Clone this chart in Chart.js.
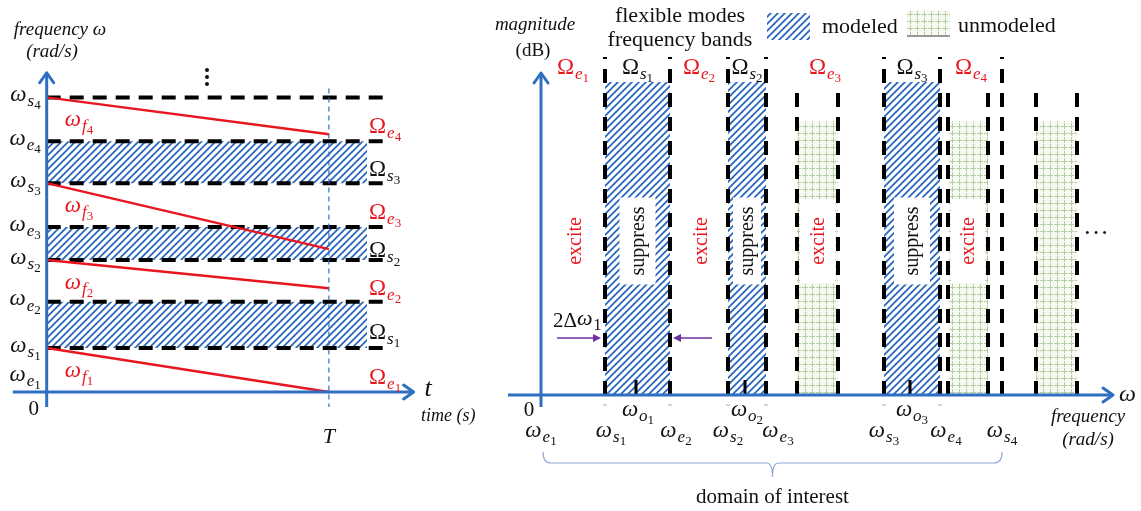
<!DOCTYPE html>
<html>
<head>
<meta charset="utf-8">
<script src="https://cdn.jsdelivr.net/npm/chart.js@4.4.1/dist/chart.umd.min.js"></script>
<style>
  html, body { margin: 0; padding: 0; background: #fff; overflow: hidden; }
  #wrap { position: relative; width: 1141px; height: 511px; }
  canvas { position: absolute; top: 0; }
  #left { left: 0; }
  #right { left: 490px; }
</style>
</head>
<body>
<div id="wrap">
  <canvas id="left" width="490" height="511"></canvas>
  <canvas id="right" width="651" height="511"></canvas>
</div>
<script>
/* ===== Data: left panel (frequency sweep vs time) ===== */
const T = 1;
const levelNames  = ['e1', 's1', 'e2', 's2', 'e3', 's3', 'e4', 's4'];
const levelValues = [0, 1, 2.05, 3, 3.75, 4.75, 5.7, 6.7];
const sweepStart  = [1, 3, 4.75, 6.7];      // ω_s1 .. ω_s4 at t = 0
const sweepEnd    = [0, 2.36, 3.25, 5.86];  // value reached at t = T
const bandLo      = [1, 3, 4.75];           // Ω_s1 .. Ω_s3
const bandHi      = [2.05, 3.75, 5.7];
const bandEndT    = 1.135;
const dashEndT    = 1.2;

/* ===== Data: right panel (magnitude vs frequency) ===== */
const edgeNames   = ['e1', 's1', 'e2', 's2', 'e3', 's3', 'e4', 's4'];
const edgeValues  = [0, 6.4, 12.9, 18.7, 22.5, 34.3, 39.9, 46.1];
const modeledLo   = [6.4, 18.7, 34.3];
const modeledHi   = [12.9, 22.5, 39.9];
const modeledMag  = 31.3;
const unmodLo     = [25.6, 40.7, 49.5];
const unmodHi     = [29.7, 44.7, 53.6];
const unmodMag    = 27.4;
const centerFreq  = [9.5, 20.4, 36.9];
const tallDashTop = 33.8;
const shortDashTop = 30.7;

/* ===== Style helpers ===== */
const SERIF = '"Liberation Serif", "DejaVu Serif", serif';
const AXIS_BLUE = '#2e6fc1';
const RED = '#e8161f';
const PURPLE = '#7030a0';

function makeHatch() {
  const c = document.createElement('canvas'); c.width = 7; c.height = 7;
  const g = c.getContext('2d');
  g.fillStyle = '#fff'; g.fillRect(0, 0, 7, 7);
  g.strokeStyle = '#2b67bd'; g.lineWidth = 1.8;
  g.beginPath();
  g.moveTo(-1, 8); g.lineTo(8, -1);
  g.moveTo(-1, 1); g.lineTo(1, -1);
  g.moveTo(6, 8); g.lineTo(8, 6);
  g.stroke();
  return g.createPattern(c, 'repeat');
}
function makeGrid() {
  const c = document.createElement('canvas'); c.width = 7; c.height = 7;
  const g = c.getContext('2d');
  g.fillStyle = '#f7faf3'; g.fillRect(0, 0, 7, 7);
  g.fillStyle = '#b5cda3';
  g.fillRect(0, 0, 7, 1); g.fillRect(0, 0, 1, 7);
  g.fillStyle = '#f7faf3';
  g.fillRect(3, 0, 1, 1); g.fillRect(0, 3, 1, 1);
  return g.createPattern(c, 'repeat');
}
const HATCH = makeHatch();
const GRID = makeGrid();

function txt(ctx, s, x, y, o = {}) {
  ctx.save();
  ctx.font = (o.italic ? 'italic ' : '') + (o.size || 20) + 'px ' + SERIF;
  ctx.fillStyle = o.color || '#111';
  ctx.textAlign = o.align || 'center';
  ctx.textBaseline = 'middle';
  if (o.rot) { ctx.translate(x, y); ctx.rotate(o.rot); ctx.fillText(s, 0, 0); }
  else ctx.fillText(s, x, y);
  ctx.restore();
}
function textW(ctx, s, size, italic) {
  ctx.save();
  ctx.font = (italic ? 'italic ' : '') + size + 'px ' + SERIF;
  const w = ctx.measureText(s).width;
  ctx.restore();
  return w;
}
// symbol like ω_{s_4}; y is the visual middle of the base glyph
function sym(ctx, x, y, base, sub, idx, o = {}) {
  const s = o.size || 23;
  const fBase = (o.upright ? '' : 'italic ') + s + 'px ' + SERIF;
  const fSub = (/\d/.test(sub) ? '' : 'italic ') + Math.round(s * 0.74) + 'px ' + SERIF;
  const fIdx = Math.round(s * 0.58) + 'px ' + SERIF;
  ctx.save();
  ctx.fillStyle = o.color || '#111';
  ctx.textAlign = 'left'; ctx.textBaseline = 'alphabetic';
  ctx.font = fBase; const w1 = ctx.measureText(base).width;
  ctx.font = fSub; const w2 = sub ? ctx.measureText(sub).width : 0;
  ctx.font = fIdx; const w3 = idx ? ctx.measureText(idx).width : 0;
  const w = w1 + w2 + w3 + 1;
  const x0 = o.align === 'right' ? x - w : o.align === 'left' ? x : x - w / 2;
  const b0 = y + s * (o.upright ? 0.33 : 0.2);
  const b1 = b0 + s * 0.22;
  ctx.font = fBase; ctx.fillText(base, x0, b0);
  if (sub) { ctx.font = fSub; ctx.fillText(sub, x0 + w1 + 1, b1); }
  if (idx) { ctx.font = fIdx; ctx.fillText(idx, x0 + w1 + w2 + 1, b1 + s * 0.15); }
  ctx.restore();
}
function chevron(ctx, x, y, dir, color) {
  ctx.save();
  ctx.strokeStyle = color; ctx.lineWidth = 3; ctx.lineCap = 'round'; ctx.lineJoin = 'round';
  ctx.beginPath();
  if (dir === 'up') { ctx.moveTo(x - 7, y + 10); ctx.lineTo(x, y); ctx.lineTo(x + 7, y + 10); }
  else { ctx.moveTo(x - 10, y - 7); ctx.lineTo(x, y); ctx.lineTo(x - 10, y + 7); }
  ctx.stroke();
  ctx.restore();
}
function seg(ctx, x0, y0, x1, y1) { ctx.beginPath(); ctx.moveTo(x0, y0); ctx.lineTo(x1, y1); ctx.stroke(); }

function lineDs(points, color, width, dash, order, extra = {}) {
  return Object.assign({
    data: points, showLine: true, borderColor: color, borderWidth: width,
    borderDash: dash || [], pointRadius: 0, fill: false, order
  }, extra);
}
function baseOptions(xr, yr, pad) {
  return {
    responsive: false, animation: false, devicePixelRatio: 1,
    layout: { padding: pad },
    plugins: { legend: { display: false }, tooltip: { enabled: false } },
    elements: { line: { tension: 0 }, point: { radius: 0 } },
    scales: {
      x: { type: 'linear', display: false, min: xr[0], max: xr[1] },
      y: { type: 'linear', display: false, min: yr[0], max: yr[1] }
    }
  };
}

/* ===== Left chart ===== */
const leftSets = [];
bandLo.forEach((lo, i) => {
  const hi = bandHi[i];
  leftSets.push(lineDs([{x: 0, y: lo}, {x: 0, y: hi}, {x: bandEndT, y: hi}, {x: bandEndT, y: lo}],
    'rgba(0,0,0,0)', 1, null, 10, { fill: { value: lo }, backgroundColor: HATCH }));
});
levelValues.slice(1).forEach(v => {
  leftSets.push(lineDs([{x: 0, y: v}, {x: dashEndT, y: v}], '#000', 4, [14, 9], 5));
});
sweepStart.forEach((s, i) => {
  leftSets.push(lineDs([{x: 0, y: s}, {x: T, y: sweepEnd[i]}], RED, 2.5, null, 3));
});
leftSets.push(lineDs([{x: T, y: 6.9}, {x: T, y: -0.34}], AXIS_BLUE, 1.2, [5, 4], 2));

const leftDecor = {
  id: 'leftDecor',
  afterDatasetsDraw(chart) {
    const { ctx, scales: { x, y } } = chart;
    const px = v => x.getPixelForValue(v), py = v => y.getPixelForValue(v);
    ctx.save();
    ctx.strokeStyle = AXIS_BLUE; ctx.lineWidth = 3;
    seg(ctx, px(-0.12), py(0), px(1.3), py(0));
    seg(ctx, px(0), py(-0.34), px(0), py(7.26));
    chevron(ctx, px(1.3), py(0), 'right', AXIS_BLUE);
    chevron(ctx, px(0), py(7.26), 'up', AXIS_BLUE);
    ctx.restore();

    // level labels on the frequency axis
    levelNames.forEach((n, i) => {
      const yy = i === 0 ? py(levelValues[i]) - 16 : py(levelValues[i]) - 1;
      sym(ctx, px(0) - 6, yy, 'ω', n[0], n[1], { align: 'right', size: 23 });
    });
    // sweep labels
    sweepStart.forEach((s, i) => {
      sym(ctx, px(0) + 18, py(s) + 24, 'ω', 'f', String(i + 1), { align: 'left', size: 23, color: RED });
    });
    // region labels at the right
    const regionNames = ['e1', 's1', 'e2', 's2', 'e3', 's3', 'e4'];
    regionNames.forEach((n, i) => {
      const lo = i === 0 ? 0 : levelValues[i];
      const hi = levelValues[i + 1];
      const isE = n[0] === 'e';
      sym(ctx, 369, (py(lo) + py(hi)) / 2 + 6, 'Ω', n[0], n[1],
        { align: 'left', size: 23, upright: true, color: isE ? RED : '#111' });
    });

    txt(ctx, 'frequency ω', 60, 30, { italic: true, size: 19 });
    txt(ctx, '(rad/s)', 52, 52, { italic: true, size: 19 });
    ctx.save(); ctx.fillStyle = '#111';
    [70, 77, 84].forEach(yy => { ctx.beginPath(); ctx.arc(207, yy, 2, 0, Math.PI * 2); ctx.fill(); });
    ctx.restore();
    txt(ctx, 't', px(1.3) + 11, py(0) - 3, { italic: true, size: 26, align: 'left' });
    txt(ctx, 'time (s)', 421, 416, { italic: true, size: 18, align: 'left' });
    txt(ctx, '0', px(0) - 13, py(0) + 17, { size: 21 });
    txt(ctx, 'T', px(T), 437, { italic: true, size: 22 });
  }
};

new Chart(document.getElementById('left'), {
  type: 'scatter',
  data: { datasets: leftSets },
  options: baseOptions([-0.13, 1.305], [-0.5, 7.3], { left: 10, right: 75, top: 71, bottom: 97 }),
  plugins: [leftDecor]
});

/* ===== Right chart ===== */
const rightSets = [];
function rectPts(lo, hi, top) { return [{x: lo, y: 0}, {x: lo, y: top}, {x: hi, y: top}, {x: hi, y: 0}]; }
modeledLo.forEach((lo, i) => {
  rightSets.push(lineDs(rectPts(lo, modeledHi[i], modeledMag), 'rgba(0,0,0,0)', 1, null, 10,
    { fill: 'origin', backgroundColor: HATCH }));
});
unmodLo.forEach((lo, i) => {
  rightSets.push(lineDs(rectPts(lo, unmodHi[i], unmodMag), 'rgba(0,0,0,0)', 1, null, 10,
    { fill: 'origin', backgroundColor: GRID }));
});
edgeValues.slice(1).forEach(v => {
  rightSets.push(lineDs([{x: v, y: 0}, {x: v, y: tallDashTop}], '#000', 4, [14, 10], 5));
});
unmodLo.concat(unmodHi).forEach(v => {
  rightSets.push(lineDs([{x: v, y: 0}, {x: v, y: shortDashTop}], '#000', 4, [14, 10], 5));
});
centerFreq.forEach(c => {
  rightSets.push(lineDs([{x: c, y: 0}, {x: c, y: 1.5}], '#000', 3, null, 4));
});

const rightDecor = {
  id: 'rightDecor',
  afterDatasetsDraw(chart) {
    const { ctx, scales: { x, y } } = chart;
    const px = v => x.getPixelForValue(v), py = v => y.getPixelForValue(v);

    // white boxes with rotated labels
    const midY = py(15.4);
    modeledLo.forEach((lo, i) => {
      const cx = (px(lo) + px(modeledHi[i])) / 2;
      const bw = Math.min(36, px(modeledHi[i]) - px(lo) - 10);
      const bh = textW(ctx, 'suppress', 20) + 18;
      ctx.fillStyle = '#fff'; ctx.fillRect(cx - bw / 2, midY - bh / 2, bw, bh);
      txt(ctx, 'suppress', cx + 1, midY, { size: 20, rot: -Math.PI / 2 });
    });
    unmodLo.slice(0, 2).forEach((lo, i) => {
      const cx = (px(lo) + px(unmodHi[i])) / 2;
      const bw = px(unmodHi[i]) - px(lo) - 6;
      const bh = textW(ctx, 'excite', 20) + 36;
      ctx.fillStyle = '#fff'; ctx.fillRect(cx - bw / 2, midY - bh / 2, bw, bh);
      txt(ctx, 'excite', cx + 1, midY, { size: 20, color: RED, rot: -Math.PI / 2 });
    });
    [[edgeValues[0], edgeValues[1]], [edgeValues[2], edgeValues[3]]].forEach(([a, b]) => {
      txt(ctx, 'excite', (px(a) + px(b)) / 2 + 3, midY, { size: 20, color: RED, rot: -Math.PI / 2 });
    });

    // axes
    ctx.save();
    ctx.strokeStyle = AXIS_BLUE; ctx.lineWidth = 3;
    seg(ctx, px(-3.3), py(0), px(57.2), py(0));
    seg(ctx, px(0), py(-1.2), px(0), py(32.2));
    ctx.restore();
    chevron(ctx, px(57.2), py(0), 'right', AXIS_BLUE);
    chevron(ctx, px(0), py(32.2), 'up', AXIS_BLUE);

    // small grey marks under the modeled band edges
    ctx.save(); ctx.strokeStyle = '#aaa'; ctx.lineWidth = 1;
    modeledLo.concat(modeledHi).forEach(v => seg(ctx, px(v) - 2, py(0) + 10, px(v) + 2, py(0) + 10));
    ctx.restore();

    // band labels along the top
    for (let i = 0; i < edgeValues.length - 1; i++) {
      const n = edgeNames[i];
      const isE = n[0] === 'e';
      const regName = isE ? n : 's' + n[1];
      sym(ctx, (px(edgeValues[i]) + px(edgeValues[i + 1])) / 2, 66, 'Ω', regName[0], regName[1],
        { size: 23, upright: true, color: isE ? RED : '#111' });
    }

    // frequency labels under the axis
    const dx = [0, 6, 6, 0, 12, 0, 6, 0];
    edgeNames.forEach((n, i) => {
      sym(ctx, px(edgeValues[i]) + dx[i], 432, 'ω', n[0], n[1], { size: 23 });
    });
    centerFreq.forEach((c, i) => sym(ctx, px(c) + 2, 411, 'ω', 'o', String(i + 1), { size: 23 }));
    txt(ctx, '0', px(0) - 12, py(0) + 15, { size: 21 });

    // axis titles
    txt(ctx, 'magnitude', 45, 25, { italic: true, size: 19 });
    txt(ctx, '(dB)', 43, 51, { size: 19 });
    txt(ctx, 'ω', px(57.2) + 6, py(0), { italic: true, size: 24, align: 'left' });
    txt(ctx, 'frequency', 598, 417, { italic: true, size: 19 });
    txt(ctx, '(rad/s)', 598, 440, { italic: true, size: 19 });
    txt(ctx, '···', 606, 234, { size: 26 });

    // legend
    txt(ctx, 'flexible modes', 190, 16, { size: 22 });
    txt(ctx, 'frequency bands', 190, 40, { size: 22 });
    ctx.fillStyle = HATCH; ctx.fillRect(277, 13, 43, 27);
    txt(ctx, 'modeled', 332, 27, { size: 22, align: 'left' });
    ctx.fillStyle = GRID; ctx.fillRect(417, 10, 43, 25);
    ctx.save(); ctx.strokeStyle = '#999'; ctx.lineWidth = 2; seg(ctx, 417, 36, 460, 36); ctx.restore();
    txt(ctx, 'unmodeled', 468, 26, { size: 22, align: 'left' });

    // bandwidth arrows
    ctx.save();
    ctx.strokeStyle = PURPLE; ctx.fillStyle = PURPLE; ctx.lineWidth = 1.5;
    const ay = py(5.7);
    [[1.6, modeledLo[0] - 0.4], [17.1, modeledHi[0] + 0.3]].forEach(([a, b]) => {
      const xa = px(a), xb = px(b), d = Math.sign(xb - xa);
      seg(ctx, xa, ay, xb - d * 6, ay);
      ctx.beginPath(); ctx.moveTo(xb, ay); ctx.lineTo(xb - d * 8, ay - 4); ctx.lineTo(xb - d * 8, ay + 4); ctx.closePath(); ctx.fill();
    });
    ctx.restore();
    txt(ctx, '2Δ', 63, 321, { size: 21, align: 'left' });
    sym(ctx, 63 + textW(ctx, '2Δ', 21), 321, 'ω', '1', '', { size: 22, align: 'left' });

    // domain of interest brace
    const x0 = px(edgeValues[0]) + 2, x1 = px(edgeValues[7]), xm = (x0 + x1) / 2;
    ctx.save();
    ctx.strokeStyle = '#8aa9d6'; ctx.lineWidth = 1.2;
    ctx.beginPath();
    ctx.moveTo(x0, 452);
    ctx.quadraticCurveTo(x0, 463, x0 + 8, 463);
    ctx.lineTo(xm - 6, 463);
    ctx.quadraticCurveTo(xm, 463, xm, 477);
    ctx.quadraticCurveTo(xm, 463, xm + 6, 463);
    ctx.lineTo(x1 - 8, 463);
    ctx.quadraticCurveTo(x1, 463, x1, 452);
    ctx.stroke();
    ctx.restore();
    txt(ctx, 'domain of interest', xm, 497, { size: 21 });
  }
};

new Chart(document.getElementById('right'), {
  type: 'scatter',
  data: { datasets: rightSets },
  options: baseOptions([-3.3, 57.4], [-1.3, 34.5], { left: 18, right: 26, top: 50, bottom: 103 }),
  plugins: [rightDecor]
});
</script>
</body>
</html>
